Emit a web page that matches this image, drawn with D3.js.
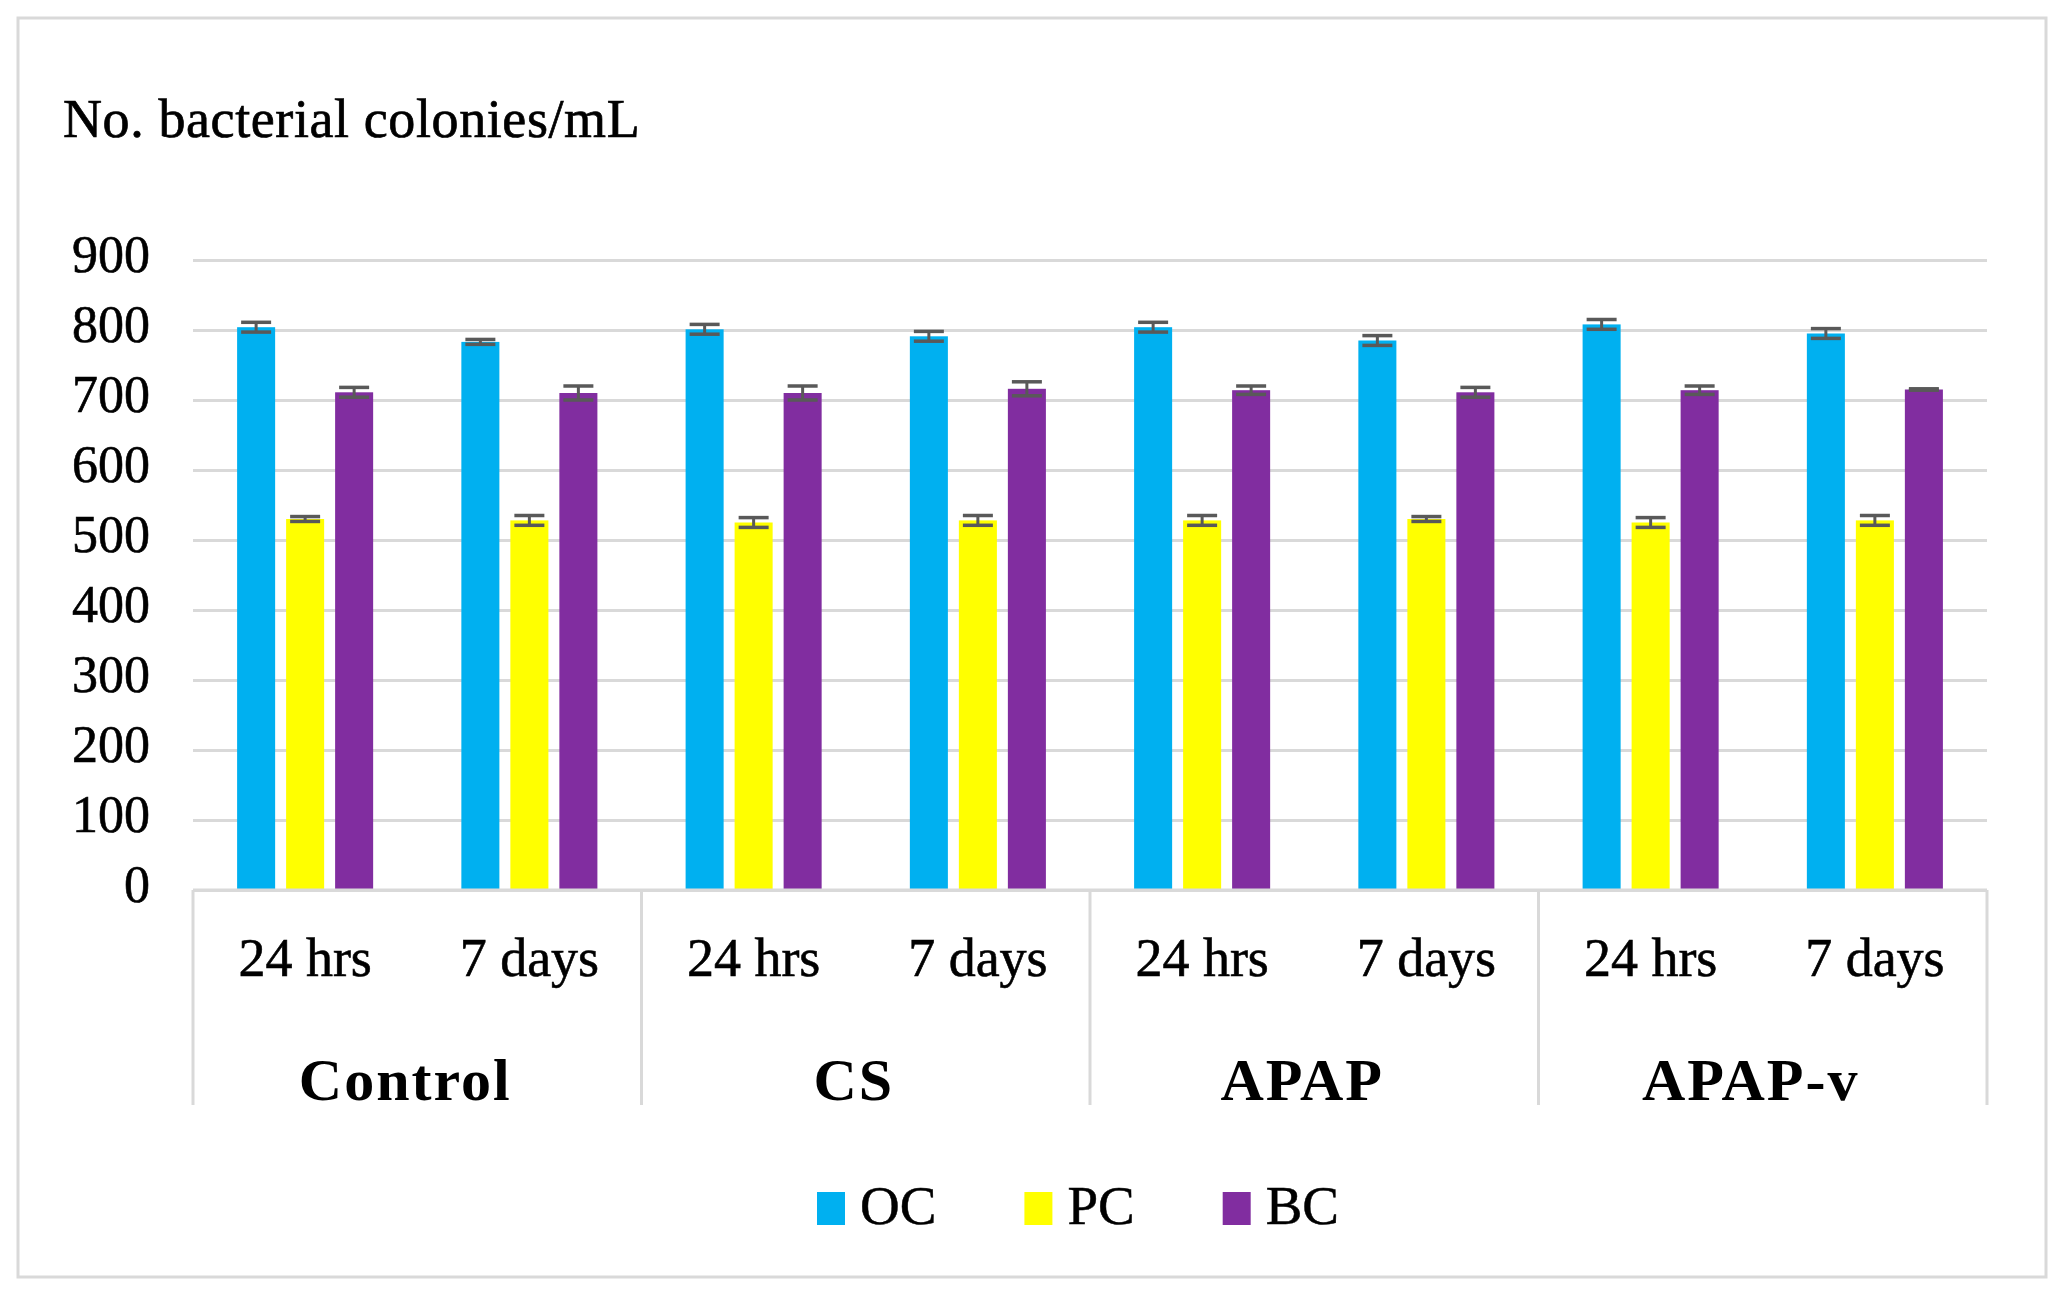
<!DOCTYPE html>
<html>
<head>
<meta charset="utf-8">
<script src="https://cdn.jsdelivr.net/npm/d3@7/dist/d3.min.js"></script>
<style>
  html, body { margin: 0; padding: 0; background: #fff; }
  svg { display: block; }
  text { font-family: "Liberation Serif", "DejaVu Serif", serif; fill: #000; }
</style>
</head>
<body>
<svg id="chart" width="2070" height="1302"></svg>
<script>
// ---- data ----
const groups = ["Control", "CS", "APAP", "APAP-v"];
const times = ["24 hrs", "7 days"];
const series = ["OC", "PC", "BC"];
const seriesColors = ["#00B0F0", "#FFFF00", "#812DA0"];
// values in order: Control 24h, Control 7d, CS 24h, CS 7d, APAP 24h, APAP 7d, APAP-v 24h, APAP-v 7d
const ocValues = [804, 783, 801, 791, 804, 785, 808, 795];
const pcValues = [530, 528, 525, 528, 528, 530, 525, 528];
const bcValues = [711, 710, 710, 716, 714, 711, 714, 715];
const ocErrors = [7, 3.5, 7, 7, 7, 7, 7, 7];
const pcErrors = [3.5, 7, 7, 7, 7, 3.5, 7, 7];
const bcErrors = [7, 10, 10, 10, 6, 7, 6, 1];
const yTicks = [0, 100, 200, 300, 400, 500, 600, 700, 800, 900];
const yTitle = "No. bacterial colonies/mL";

// ---- layout ----
const plot = { left: 193, right: 1987, top: 260, bottom: 890 };
const gridColor = "#d9d9d9";
const svg = d3.select("#chart");

// outer frame
svg.append("rect")
  .attr("x", 18).attr("y", 18)
  .attr("width", 2028).attr("height", 1259)
  .attr("fill", "#fff").attr("stroke", gridColor).attr("stroke-width", 3);

// scales
const y = d3.scaleLinear().domain([0, 900]).range([plot.bottom, plot.top]);
const xGroup = d3.scaleBand().domain(groups).range([plot.left, plot.right]).padding(0);
const xTime = d3.scaleBand().domain(times).range([0, xGroup.bandwidth()]).padding(0);
const xSeries = d3.scaleBand().domain(series).range([0, xTime.bandwidth()])
  .paddingInner(0.224).paddingOuter(0.9);

// gridlines
const grid = svg.append("g").attr("transform", `translate(${plot.left},0)`)
  .call(d3.axisLeft(y).tickValues(yTicks).tickSize(-(plot.right - plot.left)).tickFormat(""));
grid.select(".domain").remove();
grid.selectAll(".tick line").attr("stroke", gridColor).attr("stroke-width", 3);

// y tick labels
const yAxis = svg.append("g").attr("transform", `translate(${plot.left},0)`)
  .call(d3.axisLeft(y).tickValues(yTicks).tickSize(0).tickPadding(43));
yAxis.select(".domain").remove();
yAxis.selectAll(".tick text")
  .attr("font-family", "Liberation Serif")
  .attr("font-size", 52)
  .attr("fill", "#000")
  .attr("stroke", "#000").attr("stroke-width", 0.6)
  .attr("dy", "0.23em");

// y title
svg.append("text")
  .attr("x", 63).attr("y", 137)
  .attr("font-size", 54)
  .attr("letter-spacing", 0.6)
  .attr("stroke", "#000").attr("stroke-width", 0.7)
  .text(yTitle);

// build flat records
const seriesValues = [ocValues, pcValues, bcValues];
const seriesErrors = [ocErrors, pcErrors, bcErrors];
const records = [];
groups.forEach((g, gi) => {
  times.forEach((t, ti) => {
    const idx = gi * times.length + ti;
    series.forEach((s, si) => {
      records.push({ group: g, time: t, series: s, si,
        value: seriesValues[si][idx], err: seriesErrors[si][idx] });
    });
  });
});
const xOf = d => xGroup(d.group) + xTime(d.time) + xSeries(d.series);

// bars
svg.append("g").selectAll("rect").data(records).join("rect")
  .attr("x", d => xOf(d))
  .attr("y", d => y(d.value))
  .attr("width", xSeries.bandwidth())
  .attr("height", d => y(0) - y(d.value))
  .attr("fill", d => seriesColors[d.si]);

// error bars
const errColor = "#595959";
const capW = 30;
const eg = svg.append("g").attr("stroke", errColor).attr("stroke-width", 3.5);
records.forEach(d => {
  const cx = xOf(d) + xSeries.bandwidth() / 2;
  const y1 = y(d.value + d.err), y2 = y(d.value - d.err);
  eg.append("line").attr("x1", cx).attr("x2", cx).attr("y1", y1).attr("y2", y2).attr("stroke-width", 3);
  eg.append("line").attr("x1", cx - capW / 2).attr("x2", cx + capW / 2).attr("y1", y1).attr("y2", y1);
  eg.append("line").attr("x1", cx - capW / 2).attr("x2", cx + capW / 2).attr("y1", y2).attr("y2", y2);
});

// zero axis line
svg.append("line")
  .attr("x1", plot.left).attr("x2", plot.right)
  .attr("y1", y(0)).attr("y2", y(0))
  .attr("stroke", gridColor).attr("stroke-width", 3);

// category dividers
const divBottom = 1105;
const divX = groups.map(g => xGroup(g)).concat([plot.right]);
svg.append("g").selectAll("line").data(divX).join("line")
  .attr("x1", d => d).attr("x2", d => d)
  .attr("y1", y(0)).attr("y2", divBottom)
  .attr("stroke", gridColor).attr("stroke-width", 3);

// time labels
const timeLabels = [];
groups.forEach(g => times.forEach(t => timeLabels.push({ g, t })));
svg.append("g").selectAll("text").data(timeLabels).join("text")
  .attr("x", d => xGroup(d.g) + xTime(d.t) + xTime.bandwidth() / 2)
  .attr("y", 976)
  .attr("text-anchor", "middle")
  .attr("font-size", 54)
  .attr("stroke", "#000").attr("stroke-width", 0.6)
  .text(d => d.t);

// group labels
svg.append("g").selectAll("text").data(groups).join("text")
  .attr("x", d => xGroup(d) + xGroup.bandwidth() / 2 - 12)
  .attr("y", 1100)
  .attr("text-anchor", "middle")
  .attr("font-size", 60)
  .attr("font-weight", "bold")
  .attr("letter-spacing", 2)
  .text(d => d);

// legend
const legend = svg.append("g");
let lx = 817;
series.forEach((s, i) => {
  legend.append("rect")
    .attr("x", lx).attr("y", 1192)
    .attr("width", 28).attr("height", 33)
    .attr("fill", seriesColors[i]);
  const t = legend.append("text")
    .attr("x", lx + 43).attr("y", 1224)
    .attr("font-size", 55)
    .attr("stroke", "#000").attr("stroke-width", 0.5)
    .text(s);
  lx += 43 + t.node().getComputedTextLength() + 88;
});
</script>
</body>
</html>
